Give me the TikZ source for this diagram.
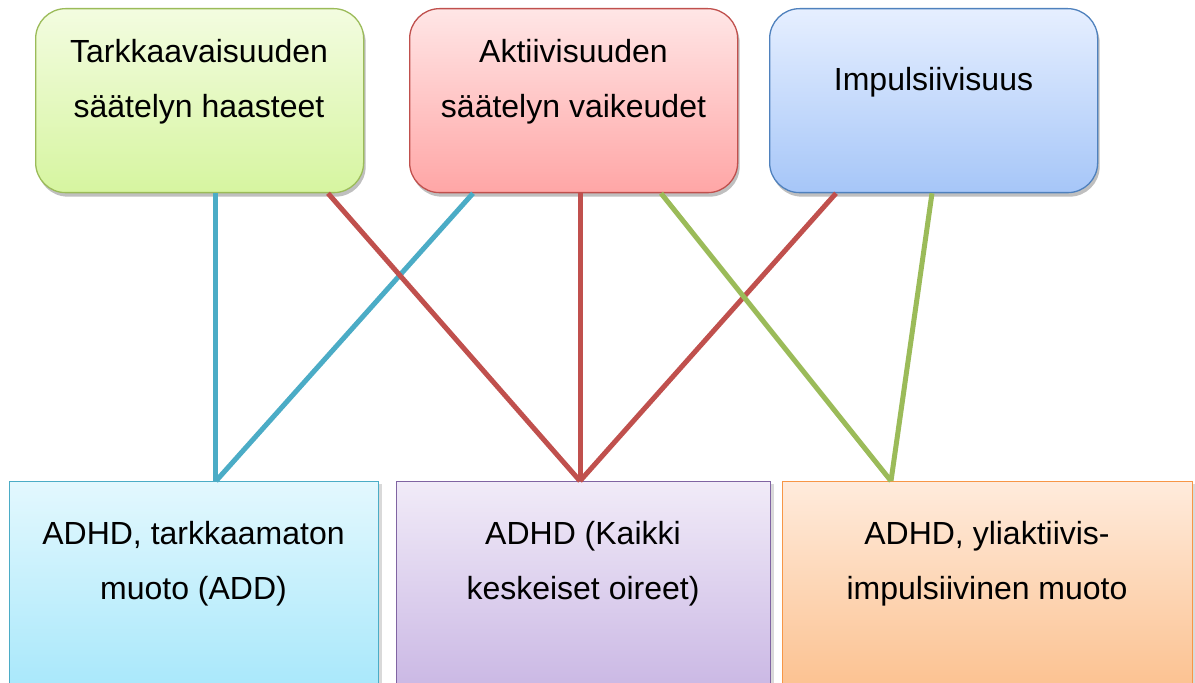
\documentclass[tikz,border=0pt]{standalone}
\usepackage{fontspec}
\setmainfont{Liberation Sans}
\usetikzlibrary{calc,shadows}
\definecolor{gB}{HTML}{9BBB59}
\definecolor{rB}{HTML}{C0504D}
\definecolor{bB}{HTML}{4F81BD}
\definecolor{cB}{HTML}{4BACC6}
\definecolor{pB}{HTML}{8064A2}
\definecolor{oB}{HTML}{F79646}
\definecolor{gT}{HTML}{F3FCE0}
\definecolor{gL}{HTML}{D6F5A0}
\definecolor{rT}{HTML}{FFE6E6}
\definecolor{rL}{HTML}{FFA6A6}
\definecolor{bT}{HTML}{E6EFFF}
\definecolor{bL}{HTML}{A6C6F8}
\definecolor{cT}{HTML}{E3F8FE}
\definecolor{cL}{HTML}{A2E6FA}
\definecolor{pT}{HTML}{F1EBF8}
\definecolor{pL}{HTML}{C6B2E2}
\definecolor{oT}{HTML}{FFEBDC}
\definecolor{oL}{HTML}{FBBD88}
\tikzset{
  topbox/.style={rectangle, rounded corners=30pt, minimum width=328pt, minimum height=184pt,
    inner sep=0pt, line width=1.3pt, anchor=north west,
    drop shadow={shadow xshift=2pt, shadow yshift=-4pt, opacity=0.25, fill=black}},
  botbox/.style={rectangle, minimum height=230pt, inner sep=0pt, line width=1.3pt, anchor=north west,
    drop shadow={shadow xshift=3pt, shadow yshift=-2pt, opacity=0.15, fill=black}},
  lbl/.style={align=center, inner sep=0pt, font=\fontsize{32}{55}\selectfont},
  cline/.style={line width=5pt}
}
\begin{document}
\begin{tikzpicture}[x=1pt,y=1pt]
\clip (0,0) rectangle (1195,683);
\fill[white] (0,0) rectangle (1195,683);
% top boxes
\node[topbox, draw=gB, top color=gT, bottom color=gL] (g) at (35,675) {};
\node[topbox, draw=rB, top color=rT, bottom color=rL] (r) at (409,675) {};
\node[topbox, draw=bB, top color=bT, bottom color=bL] (b) at (769,675) {};
% bottom boxes
\node[botbox, minimum width=369pt, draw=cB, top color=cT, bottom color=cL] (c) at (9,202) {};
\node[botbox, minimum width=374pt, draw=pB, top color=pT, bottom color=pL] (p) at (396,202) {};
\node[botbox, minimum width=410pt, draw=oB, top color=oT, bottom color=oL] (o) at (782,202) {};
% labels
\node[lbl] (gt) at (199,601.5) {Tarkkaavaisuuden\\säätelyn haasteet};
\node[lbl] (rt) at (573.5,601.5) {Aktiivisuuden\\säätelyn vaikeudet};
\node[lbl] (bt) at (933.5,601) {Impulsiivisuus};
\node[lbl] (ct) at (193.5,119) {ADHD, tarkkaamaton\\muoto (ADD)};
\node[lbl] (pt) at (583,119) {ADHD (Kaikki\\keskeiset oireet)};
\node[lbl] (ot) at (987,119) {ADHD, yliaktiivis-\\impulsiivinen muoto};
% connectors
\draw[cline, cB] ([xshift=180pt]g.south west) -- ([xshift=206pt]c.north west);
\draw[cline, cB] ([xshift=64pt]r.south west) -- ([xshift=207pt]c.north west);
\draw[cline, rB] ([xshift=293pt]g.south west) -- ([xshift=184pt]p.north west);
\draw[cline, rB] ([xshift=171pt]r.south west) -- ([xshift=184pt]p.north west);
\draw[cline, rB] ([xshift=67pt]b.south west) -- ([xshift=184pt]p.north west);
\draw[cline, gB] ([xshift=252pt]r.south west) -- ([xshift=109pt]o.north west);
\draw[cline, gB] ([xshift=163pt]b.south west) -- ([xshift=109pt]o.north west);
\end{tikzpicture}
\end{document}
